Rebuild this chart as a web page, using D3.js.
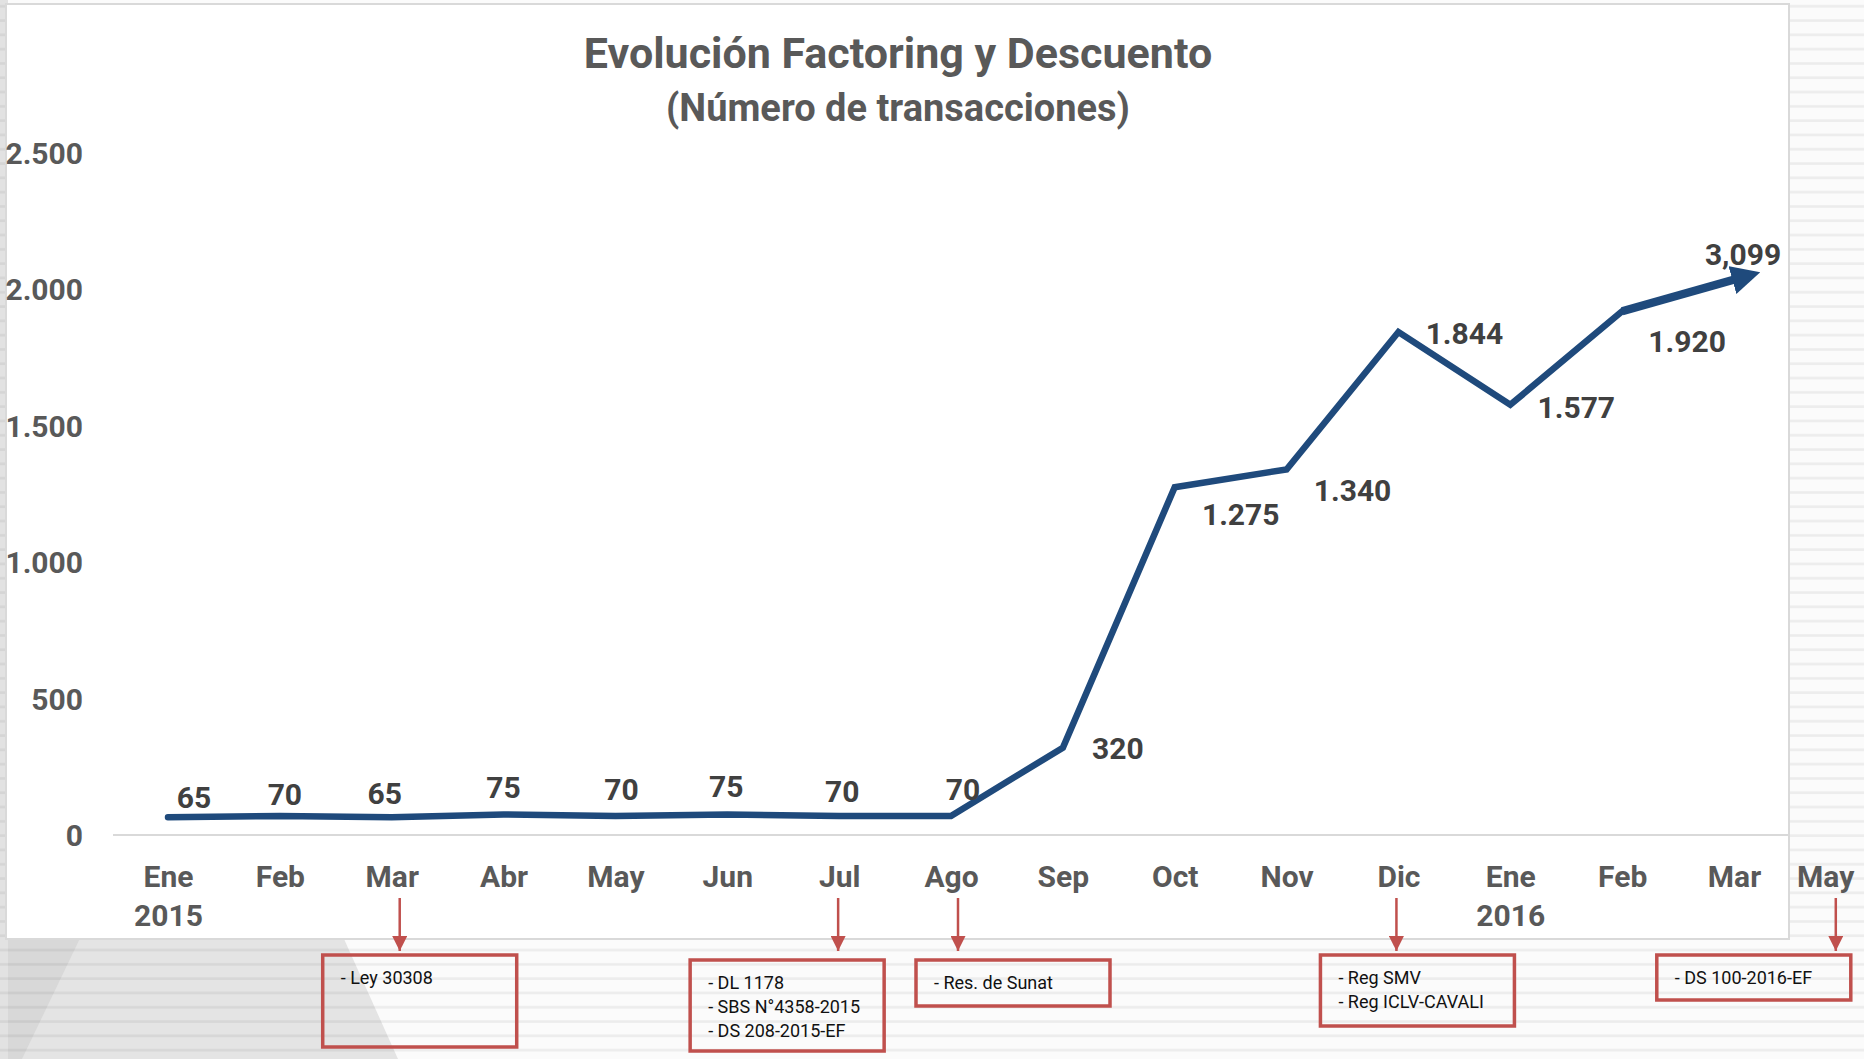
<!DOCTYPE html>
<html>
<head>
<meta charset="utf-8">
<script src="https://cdn.jsdelivr.net/npm/d3@7"></script>
<style>
  html, body { margin: 0; padding: 0; background: #fafafa; }
  svg { display: block; }
  text { font-family: Roboto, "DejaVu Sans Condensed", sans-serif; }
</style>
</head>
<body>
<div id="chart"></div>
<script>
// chart data
var months = ["Ene", "Feb", "Mar", "Abr", "May", "Jun", "Jul", "Ago", "Sep", "Oct", "Nov", "Dic", "Ene", "Feb", "Mar"];
var years = ["2015", "", "", "", "", "", "", "", "", "", "", "", "2016", "", ""];
var values = [65, 70, 65, 75, 70, 75, 70, 70, 320, 1275, 1340, 1844, 1577, 1920];
var valueLabels = ["65", "70", "65", "75", "70", "75", "70", "70", "320", "1.275", "1.340", "1.844", "1.577", "1.920"];
var projValue = 2040, projLabel = "3,099";
var yTicks = [0, 500, 1000, 1500, 2000, 2500];
var extraMonth = "May";
var noteIdx = [2, 6, 7, 11, 15];
var noteText = [
	["- Ley 30308"],
	["- DL 1178", "- SBS N°4358-2015", "- DS 208-2015-EF"],
	["- Res. de Sunat"],
	["- Reg SMV", "- Reg ICLV-CAVALI"],
	["- DS 100-2016-EF"]
];

var W = 1864, H = 1059;
var axisColor = "#595959", lineColor = "#1f4a7c", noteColor = "#c0504d";

var svg = d3.select("#chart").append("svg").attr("width", W).attr("height", H);
var defs = svg.append("defs");

// slide background with thin stripes
var pat = defs.append("pattern").attr("id", "stripes").attr("patternUnits", "userSpaceOnUse")
		.attr("width", 20).attr("height", 14.3);
pat.append("rect").attr("y", 5).attr("width", 20).attr("height", 2.5).attr("fill", "#000").attr("fill-opacity", 0.06);

svg.append("rect").attr("width", W).attr("height", H).attr("fill", "#fbfbfb");
svg.append("polygon").attr("points", "0,930 340,930 398,1059 0,1059").attr("fill", "#e4e4e4");
svg.append("polygon").attr("points", "0,930 84,930 22,1059 0,1059").attr("fill", "#d8d8d8");
svg.append("rect").attr("x", 0).attr("width", 8).attr("height", H).attr("fill", "#e2e2e2");
svg.append("rect").attr("width", W).attr("height", H).attr("fill", "url(#stripes)");

// chart panel
svg.append("rect").attr("x", 6).attr("y", 4).attr("width", 1783).attr("height", 935)
		.attr("fill", "#fff").attr("stroke", "#d9d9d9").attr("stroke-width", 2);

var x = d3.scalePoint().domain(d3.range(months.length)).range([168, 1734]);
var step = x.step();
var y = d3.scaleLinear().domain([0, 2500]).range([835, 153]);

// title
svg.append("text").attr("x", 898).attr("y", 53).attr("text-anchor", "middle")
		.attr("dominant-baseline", "central").attr("font-size", 43).attr("font-weight", "bold")
		.attr("fill", axisColor).text("Evolución Factoring y Descuento");
svg.append("text").attr("x", 898).attr("y", 108).attr("text-anchor", "middle")
		.attr("dominant-baseline", "central").attr("font-size", 38).attr("font-weight", "bold")
		.attr("fill", axisColor).text("(Número de transacciones)");

// y axis labels
var yAxis = d3.axisLeft(y).tickValues(yTicks).tickSize(0).tickPadding(0)
		.tickFormat(function(d) { return d3.format(",")(d).replace(/,/g, "."); });
var gy = svg.append("g").attr("transform", "translate(83,0)").call(yAxis);
gy.select(".domain").remove();
gy.selectAll("text").attr("font-size", 30).attr("font-weight", "bold").attr("fill", axisColor)
		.attr("font-family", null).attr("dy", "0.35em");

// x axis line
svg.append("line").attr("x1", 113).attr("x2", 1789).attr("y1", y(0)).attr("y2", y(0))
		.attr("stroke", "#d9d9d9").attr("stroke-width", 2);

// x axis labels
var xAxis = d3.axisBottom(x).tickSize(0).tickPadding(0).tickFormat(function(i) { return months[i]; });
var gx = svg.append("g").attr("transform", "translate(0,876)").call(xAxis);
gx.select(".domain").remove();
gx.selectAll("text").attr("font-size", 30).attr("font-weight", "bold").attr("fill", axisColor)
		.attr("font-family", null).attr("dy", "0.35em");
gx.selectAll(".tick").append("text").attr("y", 39).attr("dy", "0.35em").attr("text-anchor", "middle")
		.attr("font-size", 30).attr("font-weight", "bold").attr("fill", axisColor)
		.text(function(i) { return years[i]; });

var xExtra = x(months.length - 1) + step * 0.82;
svg.append("text").attr("x", xExtra).attr("y", 876).attr("dy", "0.35em").attr("text-anchor", "middle")
		.attr("font-size", 30).attr("font-weight", "bold").attr("fill", axisColor).text(extraMonth);

// main line
var line = d3.line().x(function(d, i) { return x(i); }).y(function(d) { return y(d); });
svg.append("path").datum(values).attr("d", line).attr("fill", "none").attr("stroke", lineColor)
		.attr("stroke-width", 6.5).attr("stroke-linejoin", "miter").attr("stroke-linecap", "round");

// projection arrow
defs.append("marker").attr("id", "bigArrow").attr("viewBox", "0 0 10 10").attr("refX", 2).attr("refY", 5)
		.attr("markerWidth", 3.4).attr("markerHeight", 3.4).attr("orient", "auto")
		.attr("markerUnits", "strokeWidth")
		.append("path").attr("d", "M0,0 L10,5 L0,10 Z").attr("fill", lineColor);
var lastI = values.length - 1;
svg.append("line").attr("x1", x(lastI)).attr("y1", y(values[lastI]))
		.attr("x2", x(lastI + 1) + 4).attr("y2", y(projValue))
		.attr("stroke", lineColor).attr("stroke-width", 8.5).attr("marker-end", "url(#bigArrow)");

// data labels
var labelOff = [[26, -20], [5, -21], [-7, -24], [0, -27], [6, -26], [-1, -28], [3, -24], [12, -26],
	[55, 1], [66, 27], [66, 21], [66, 2], [66, 3], [65, 30]];
svg.append("g").selectAll("text").data(values).join("text")
		.attr("x", function(d, i) { return x(i) + labelOff[i][0]; })
		.attr("y", function(d, i) { return y(d) + labelOff[i][1]; })
		.attr("dy", "0.35em").attr("text-anchor", "middle")
		.attr("font-size", 30).attr("font-weight", "bold").attr("fill", "#404040")
		.text(function(d, i) { return valueLabels[i]; });
svg.append("text").attr("x", x(lastI + 1) + 9).attr("y", y(projValue) - 24).attr("dy", "0.35em")
		.attr("text-anchor", "middle").attr("font-size", 30).attr("font-weight", "bold")
		.attr("fill", "#404040").text(projLabel);

// regulation notes
defs.append("marker").attr("id", "redArrow").attr("viewBox", "0 0 10 10").attr("refX", 10).attr("refY", 5)
		.attr("markerWidth", 6).attr("markerHeight", 6).attr("orient", "auto")
		.attr("markerUnits", "strokeWidth")
		.append("path").attr("d", "M0,0 L10,5 L0,10 Z").attr("fill", noteColor);

// box layout: [arrow dx from tick, box left from arrow, box top, box height]
var noteBox = [[8, -77, 955, 92], [-1, -148, 960, 91], [7, -42, 960, 46], [-2, -76, 955, 71], [0, -179, 955, 45]];
function noteX(i) {
	return noteIdx[i] < months.length ? x(noteIdx[i]) : x(months.length - 1) + step * 0.91;
}
var notes = svg.append("g").selectAll("g").data(noteText).join("g")
		.attr("transform", function(d, i) { return "translate(" + (noteX(i) + noteBox[i][0]) + ",0)"; });
notes.append("line").attr("x1", 0).attr("x2", 0).attr("y1", 898).attr("y2", 951)
		.attr("stroke", noteColor).attr("stroke-width", 2.5).attr("marker-end", "url(#redArrow)");
notes.append("rect")
		.attr("x", function(d, i) { return noteBox[i][1]; })
		.attr("y", function(d, i) { return noteBox[i][2]; })
		.attr("width", 194)
		.attr("height", function(d, i) { return noteBox[i][3]; })
		.attr("fill", "none").attr("stroke", noteColor).attr("stroke-width", 3.5);
notes.each(function(lines, i) {
	d3.select(this).selectAll("text.note").data(lines).join("text").attr("class", "note")
			.attr("x", noteBox[i][1] + 18)
			.attr("y", function(t, k) { return noteBox[i][2] + 23 + k * 24; })
			.attr("dy", "0.35em").attr("font-size", 18).attr("fill", "#111").text(function(t) { return t; });
});
</script>
</body>
</html>
